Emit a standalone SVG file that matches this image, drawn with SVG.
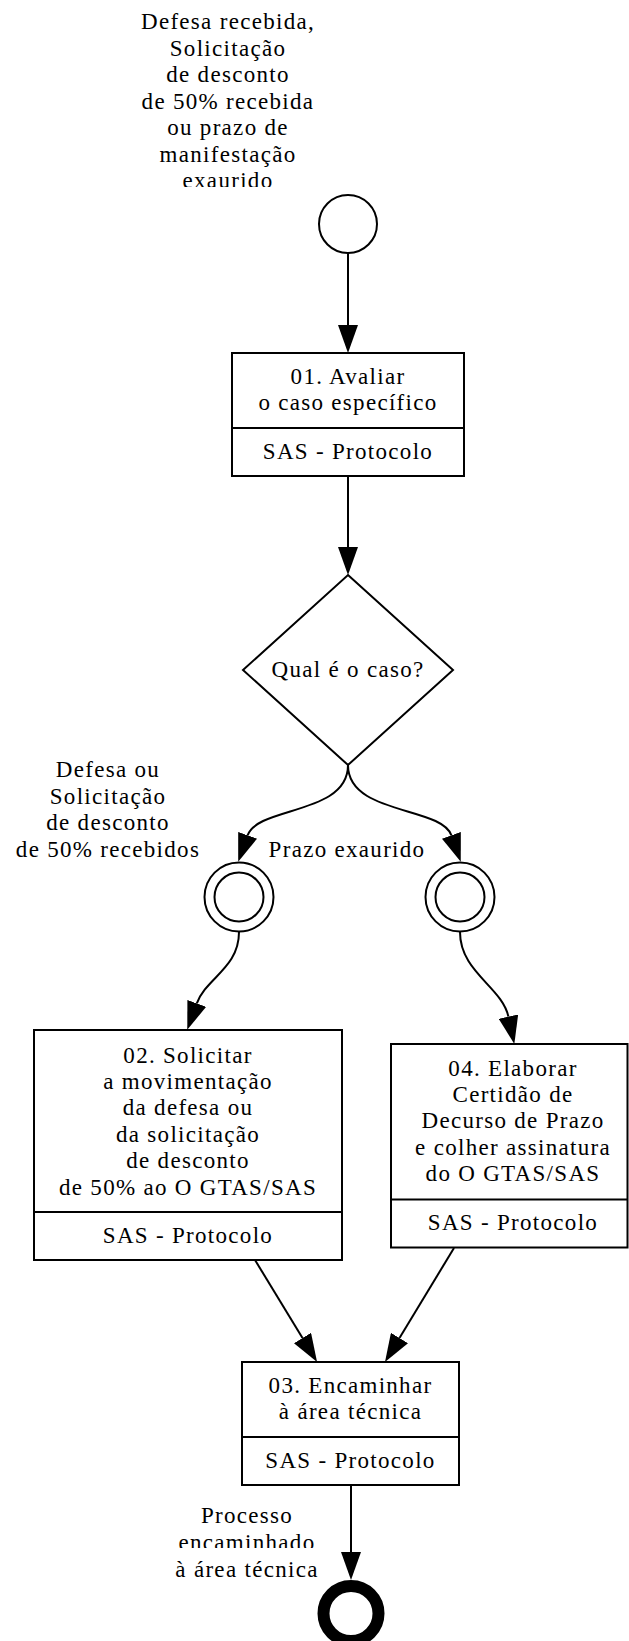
<svg xmlns="http://www.w3.org/2000/svg" width="629" height="1641" viewBox="0 0 629 1641">
<defs>
<style>
text{font-family:"Liberation Serif","Times New Roman",serif;font-size:23px;letter-spacing:1.3px;text-anchor:middle;fill:#000}
.box{fill:#fff;stroke:#000;stroke-width:2}
.div{stroke:#000;stroke-width:2}
.ev{fill:#fff;stroke:#000;stroke-width:2}
.conn path{fill:none;stroke:#000;stroke-width:2;marker-end:url(#arrow)}
</style>
<marker id="arrow" markerUnits="userSpaceOnUse" markerWidth="28" markerHeight="20" refX="0" refY="10" orient="auto">
<path d="M0,0 L28,10 L0,20 z" fill="#000"/>
</marker>
<clipPath id="clipTop"><rect x="0" y="0" width="629" height="187"/></clipPath>
<clipPath id="clipEnd"><rect x="0" y="1500" width="629" height="48"/></clipPath>
</defs>
<rect width="629" height="1641" fill="#fff"/>

<g id="connectors" class="conn">
<path d="M348,253 L348,325"/>
<path d="M348,476 L348,547"/>
<path d="M348,765 C348,815 258,806 247.6,835.3"/>
<path d="M348,765 C348,815 441,806 451.4,835.3"/>
<path d="M239,932 C239,968 206,978 196.8,1003.4"/>
<path d="M460,932 C460,972 502,987 508.4,1016.6"/>
<path d="M255,1260 L302.5,1338"/>
<path d="M454,1248 L399.5,1338"/>
<path d="M351,1485 L351,1552"/>
</g>

<g id="start">
<circle class="ev" cx="348" cy="224" r="29"/>
<g clip-path="url(#clipTop)">
<text x="228" y="29">Defesa recebida,</text>
<text x="228" y="55.5">Solicitação</text>
<text x="228" y="82">de desconto</text>
<text x="228" y="108.5">de 50% recebida</text>
<text x="228" y="135">ou prazo de</text>
<text x="228" y="161.5">manifestação</text>
<text x="228" y="188">exaurido</text>
</g>
</g>

<g id="task01">
<rect class="box" x="232" y="353" width="232" height="123"/>
<line class="div" x1="232" y1="428" x2="464" y2="428"/>
<text x="348" y="384">01. Avaliar</text>
<text x="348" y="410.4">o caso específico</text>
<text x="348" y="458.5">SAS - Protocolo</text>
</g>

<g id="gateway">
<polygon class="ev" points="348,575 453,670 348,765 243,670"/>
<text x="348" y="677">Qual é o caso?</text>
</g>

<g id="label-defesa">
<text x="108" y="777">Defesa ou</text>
<text x="108" y="803.5">Solicitação</text>
<text x="108" y="830">de desconto</text>
<text x="108" y="856.5">de 50% recebidos</text>
</g>

<g id="label-prazo">
<text x="347" y="857">Prazo exaurido</text>
</g>

<g id="event-left">
<circle class="ev" cx="239" cy="897" r="34.5"/>
<circle class="ev" cx="239" cy="897" r="24.5"/>
</g>

<g id="event-right">
<circle class="ev" cx="460" cy="897" r="34.5"/>
<circle class="ev" cx="460" cy="897" r="24.5"/>
</g>

<g id="task02">
<rect class="box" x="34" y="1030" width="308" height="230"/>
<line class="div" x1="34" y1="1212" x2="342" y2="1212"/>
<text x="188" y="1062.5">02. Solicitar</text>
<text x="188" y="1088.9">a movimentação</text>
<text x="188" y="1115.3">da defesa ou</text>
<text x="188" y="1141.7">da solicitação</text>
<text x="188" y="1168.1">de desconto</text>
<text x="188" y="1194.5">de 50% ao O GTAS/SAS</text>
<text x="188" y="1243">SAS - Protocolo</text>
</g>

<g id="task04">
<rect class="box" x="391" y="1044" width="236.5" height="203.5"/>
<line class="div" x1="391" y1="1199.5" x2="627.5" y2="1199.5"/>
<text x="513" y="1075.5">04. Elaborar</text>
<text x="513" y="1101.9">Certidão de</text>
<text x="513" y="1128.3">Decurso de Prazo</text>
<text x="513" y="1154.7">e colher assinatura</text>
<text x="513" y="1181.1">do O GTAS/SAS</text>
<text x="513" y="1230">SAS - Protocolo</text>
</g>

<g id="task03">
<rect class="box" x="242" y="1362" width="217" height="123"/>
<line class="div" x1="242" y1="1437" x2="459" y2="1437"/>
<text x="350.5" y="1393">03. Encaminhar</text>
<text x="350.5" y="1419.4">à área técnica</text>
<text x="350.5" y="1467.5">SAS - Protocolo</text>
</g>

<g id="label-end">
<text x="247" y="1523">Processo</text>
<text x="247" y="1550" clip-path="url(#clipEnd)">encaminhado</text>
<text x="247" y="1576.5">à área técnica</text>
</g>

<g id="end">
<circle cx="351" cy="1613.5" r="27.5" fill="#fff" stroke="#000" stroke-width="12"/>
</g>
</svg>
